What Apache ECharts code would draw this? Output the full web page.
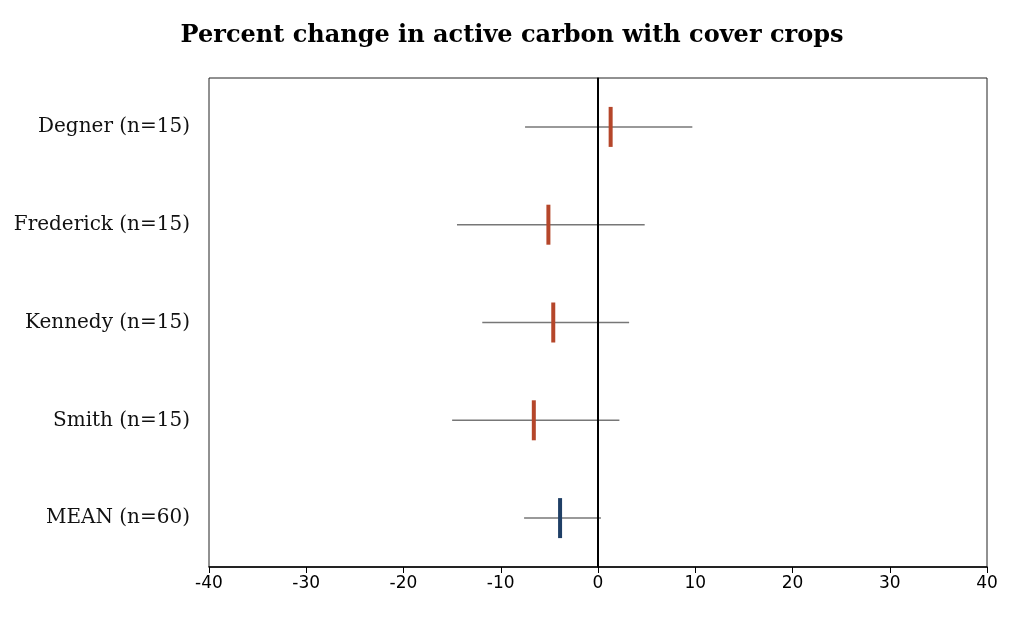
<!DOCTYPE html>
<html>
<head>
<meta charset="utf-8">
<script src="https://cdn.jsdelivr.net/npm/echarts@6/dist/echarts.min.js"></script>
<style>
  html, body { margin: 0; padding: 0; background: #fff; }
  #main { width: 1024px; height: 618px; }
</style>
</head>
<body>
<div id="main"></div>
<script>
// sites and percent change (mean with low/high range)
var sites = ['Degner (n=15)', 'Frederick (n=15)', 'Kennedy (n=15)', 'Smith (n=15)', 'MEAN (n=60)'];
var means = [1.3, -5.1, -4.6, -6.6, -3.9];
var lows = [-7.5, -14.5, -11.9, -15.0, -7.6];
var highs = [9.7, 4.8, 3.2, 2.2, 0.3];
var xTicks = [-40, -30, -20, -10, 0, 10, 20, 30, 40];

var chart = echarts.init(document.getElementById('main'));

var rangeData = sites.map(function (s, i) { return [i, lows[i], highs[i]]; });
var meanData = sites.map(function (s, i) { return [i, means[i]]; });

var option = {
  animation: false,
  title: {
    text: 'Percent change in active carbon with cover crops',
    left: 'center',
    top: 19,
    textStyle: {
      fontFamily: 'DejaVu Serif',
      fontWeight: 'bold',
      fontSize: 24,
      color: '#000'
    }
  },
  grid: {
    left: 209,
    right: 37,
    top: 78,
    bottom: 51,
    show: true,
    borderColor: '#222',
    borderWidth: 1
  },
  xAxis: {
    type: 'value',
    min: xTicks[0],
    max: xTicks[xTicks.length - 1],
    interval: 10,
    splitLine: { show: false },
    axisLine: { show: true, onZero: false, lineStyle: { color: '#000', width: 1.5 } },
    axisTick: { show: true, length: 6, lineStyle: { color: '#000' } },
    axisLabel: { color: '#000', fontSize: 17, fontFamily: 'DejaVu Sans', margin: 8 }
  },
  yAxis: {
    type: 'category',
    data: sites,
    inverse: true,
    axisTick: { show: false },
    axisLine: { show: true, lineStyle: { color: '#000', width: 1.5 } },
    axisLabel: { color: '#111', fontSize: 20, fontFamily: 'DejaVu Serif', margin: 19 }
  },
  series: [
    {
      type: 'custom',
      name: 'range',
      data: rangeData,
      encode: { x: [1, 2], y: 0 },
      renderItem: function (params, api) {
        var p1 = api.coord([api.value(1), api.value(0)]);
        var p2 = api.coord([api.value(2), api.value(0)]);
        return {
          type: 'line',
          shape: { x1: p1[0], y1: p1[1], x2: p2[0], y2: p2[1] },
          style: { stroke: '#777', lineWidth: 1.5 }
        };
      },
      markLine: {
        silent: true,
        symbol: 'none',
        label: { show: false },
        lineStyle: { color: '#000', width: 2, type: 'solid' },
        data: [{ xAxis: 0 }]
      },
      z: 2
    },
    {
      type: 'custom',
      name: 'mean',
      data: meanData,
      encode: { x: 1, y: 0 },
      renderItem: function (params, api) {
        var p = api.coord([api.value(1), api.value(0)]);
        var isMean = params.dataIndex === sites.length - 1;
        return {
          type: 'rect',
          shape: { x: p[0] - 2, y: p[1] - 20, width: 4, height: 40 },
          style: { fill: isMean ? '#1f3f66' : '#b5462a' }
        };
      },
      z: 3
    }
  ]
};

chart.setOption(option);
</script>
</body>
</html>
